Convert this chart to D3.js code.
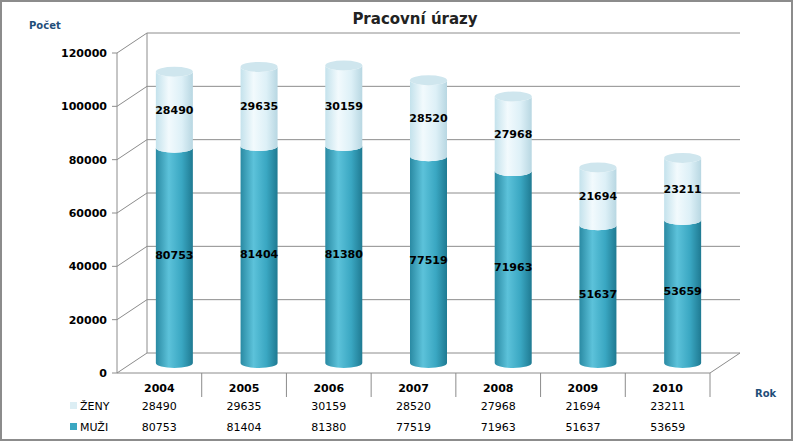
<!DOCTYPE html>
<html><head><meta charset="utf-8">
<script src="https://cdn.jsdelivr.net/npm/d3@7"></script>
<style>body{margin:0;background:#fff;font-family:"DejaVu Sans",sans-serif}</style>
</head><body>
<script>
var years = ["2004","2005","2006","2007","2008","2009","2010"];
var muzi = [80753,81404,81380,77519,71963,51637,53659];
var zeny = [28490,29635,30159,28520,27968,21694,23211];
var ticks = [0,20000,40000,60000,80000,100000,120000];

var W = 793, H = 441;
var svg = d3.select("body").append("svg").attr("width", W).attr("height", H);
var defs = svg.append("defs");
function grad(id, stops) {
  var g = defs.append("linearGradient").attr("id", id);
  stops.forEach(s => g.append("stop").attr("offset", s[0]).attr("stop-color", s[1]));
}
grad("gm", [[0,"#2a8aa3"],[0.35,"#5cc2da"],[0.7,"#3aa7c2"],[1,"#1f7a92"]]);
grad("gz", [[0,"#c4e2ec"],[0.35,"#f2fafd"],[0.7,"#ddf0f7"],[1,"#b8d7e2"]]);

svg.append("rect").attr("x",1).attr("y",1).attr("width",W-2).attr("height",H-2)
  .attr("fill","#fff").attr("stroke","#8c8c8c").attr("stroke-width",2);

var x0 = 117, x1 = 710, dx = 30, dy = -20;
var y = d3.scaleLinear().domain([0,120000]).range([373,53]);
var x = d3.scaleBand().domain(years).range([x0,x1]);

// walls
var wall = svg.append("g").attr("stroke","#8c8c8c").attr("fill","none");
ticks.forEach(t => {
  wall.append("polyline").attr("points", `${x0},${y(t)} ${x0+dx},${y(t)+dy} ${x1+dx},${y(t)+dy}`);
});
wall.append("line").attr("x1",x0+dx).attr("x2",x0+dx).attr("y1",y(0)+dy).attr("y2",y(120000)+dy);
wall.append("line").attr("x1",x0).attr("x2",x0).attr("y1",y(0)).attr("y2",y(120000));
wall.append("polyline").attr("points", `${x0},${y(0)} ${x1},${y(0)} ${x1+dx},${y(0)+dy}`);
ticks.forEach(t => {
  wall.append("line").attr("x1",x0-5).attr("x2",x0).attr("y1",y(t)).attr("y2",y(t));
  svg.append("text").attr("x",x0-10).attr("y",y(t)+4).attr("text-anchor","end")
    .attr("font-size",11).attr("font-weight","bold").text(t);
});

// cylinders
var bw = 37, rx = bw/2, ry = 5, off = dx*0.5, offy = dy*0.5;
function cyl(g, cx, yb, yt, fill) {
  g.append("path").attr("d",
    `M${cx-rx},${yt} L${cx-rx},${yb} A${rx},${ry} 0 0 0 ${cx+rx},${yb} L${cx+rx},${yt} A${rx},${ry} 0 0 1 ${cx-rx},${yt} Z`)
    .attr("fill", fill);
}
years.forEach((yr,i) => {
  var g = svg.append("g");
  var cx = x(yr) + x.bandwidth()/2 + off;
  var yb = y(0)+offy, ym = y(muzi[i])+offy, yt = y(muzi[i]+zeny[i])+offy;
  cyl(g, cx, yb, ym, "url(#gm)");
  cyl(g, cx, ym, yt, "url(#gz)");
  g.append("ellipse").attr("cx",cx).attr("cy",yt).attr("rx",rx).attr("ry",ry)
    .attr("fill","#cfe6ee");
  g.append("text").attr("x",cx).attr("y",(yb+ym)/2+4).attr("text-anchor","middle")
    .attr("font-size",11).attr("font-weight","bold").text(muzi[i]);
  g.append("text").attr("x",cx).attr("y",(ym+yt)/2+4).attr("text-anchor","middle")
    .attr("font-size",11).attr("font-weight","bold").text(zeny[i]);
});

// data table
var tb = svg.append("g");
years.forEach((yr,i) => {
  var cx = x(yr) + x.bandwidth()/2;
  tb.append("line").attr("x1",x(yr)+x.bandwidth()).attr("x2",x(yr)+x.bandwidth())
    .attr("y1",373).attr("y2",397).attr("stroke","#8c8c8c");
  tb.append("text").attr("x",cx).attr("y",392).attr("text-anchor","middle")
    .attr("font-size",11).attr("font-weight","bold").text(yr);
  tb.append("text").attr("x",cx).attr("y",410).attr("text-anchor","middle")
    .attr("font-size",11).text(zeny[i]);
  tb.append("text").attr("x",cx).attr("y",431).attr("text-anchor","middle")
    .attr("font-size",11).text(muzi[i]);
});
tb.append("rect").attr("x",70).attr("y",402).attr("width",7).attr("height",7).attr("fill","#dceef4");
tb.append("text").attr("x",80).attr("y",410).attr("font-size",11).text("ŽENY");
tb.append("rect").attr("x",70).attr("y",423).attr("width",7).attr("height",7).attr("fill","#3aa7c2");
tb.append("text").attr("x",80).attr("y",431).attr("font-size",11).text("MUŽI");

svg.append("text").attr("x",415).attr("y",24).attr("text-anchor","middle")
  .attr("font-size",15).attr("font-weight","bold").attr("fill","#222").text("Pracovní úrazy");
svg.append("text").attr("x",29).attr("y",29).attr("font-size",10).attr("font-weight","bold")
  .attr("fill","#1f4e79").text("Počet");
svg.append("text").attr("x",755).attr("y",397).attr("font-size",10).attr("font-weight","bold")
  .attr("fill","#1f4e79").text("Rok");
</script>
</body></html>
